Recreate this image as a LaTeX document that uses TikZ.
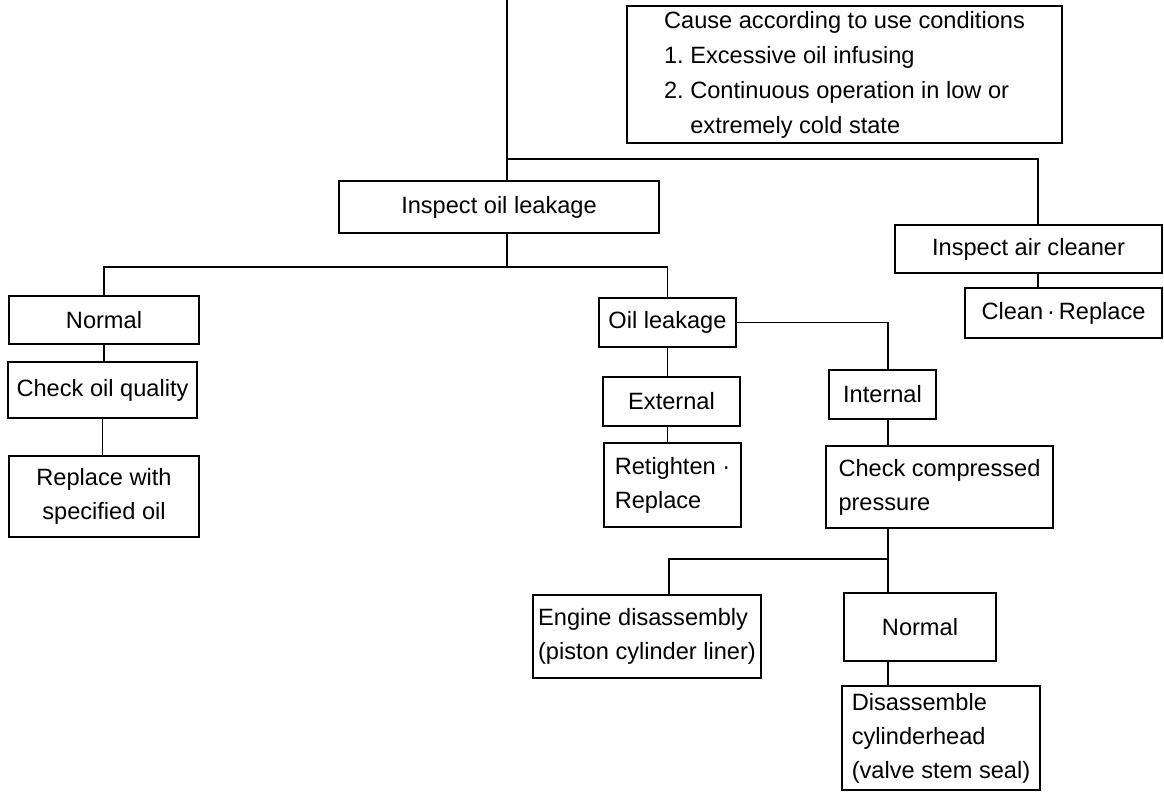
\documentclass[tikz,border=0pt]{standalone}
\usepackage{fontspec}
\setmainfont{Liberation Sans}
\begin{document}
\begin{tikzpicture}[x=0.5pt, y=-0.5pt, line width=0.9pt,
    box/.style={draw, inner sep=0pt, align=center, font=\fontsize{11.8}{17}\selectfont},
    lbox/.style={box, align=left}]
    \useasboundingbox (0,0) rectangle (1164,796);

    % Conditions d'utilisation
    \node[lbox, minimum width=217.5pt, minimum height=68.5pt, font=\fontsize{11.8}{17.5}\selectfont] (cause) at (844.5,74.5)
        {Cause according to use conditions\\1.\ Excessive oil infusing\\2.\ Continuous operation in low or\\\hphantom{2.\ }extremely cold state};

    % Niveau 1
    \node[box, minimum width=160pt, minimum height=26pt] (inspoil) at (499,207) {Inspect oil leakage};
    \node[box, minimum width=133.5pt, minimum height=24pt] (aircl) at (1028.5,249) {Inspect air cleaner};
    \node[box, minimum width=98.5pt, minimum height=25pt] (cleanrep) at (1063.5,313) {Clean\,·\,Replace};

    % Branche gauche
    \node[box, minimum width=95pt, minimum height=24pt] (normal1) at (104,320) {Normal};
    \node[box, minimum width=94.5pt, minimum height=28pt] (checkq) at (102.5,390) {Check oil quality};
    \node[box, minimum width=95pt, minimum height=40.5pt] (replace) at (104,496.5) {Replace with\\specified oil};

    % Branche fuite
    \node[box, minimum width=68.5pt, minimum height=24.5pt] (oilleak) at (667.5,322.5) {Oil leakage};
    \node[box, minimum width=68.5pt, minimum height=24.5pt] (external) at (671.5,401.5) {External};
    \node[box, minimum width=53.5pt, minimum height=24.5pt] (internal) at (882.5,394.5) {Internal};
    \node[lbox, minimum width=68.5pt, minimum height=42pt, inner xsep=5pt] (retighten) at (672.5,485) {Retighten ·\\Replace};
    \node[lbox, minimum width=113.5pt, minimum height=41pt, inner xsep=5.5pt] (checkp) at (939.5,487) {Check compressed\\pressure};

    % Niveau bas
    \node[lbox, minimum width=114pt, minimum height=41.5pt, inner xsep=2pt] (engine) at (647,636.5) {Engine disassembly\\(piston cylinder liner)};
    \node[box, minimum width=76pt, minimum height=34pt] (normal2) at (920,627) {Normal};
    \node[lbox, minimum width=99pt, minimum height=52pt, inner xsep=5pt] (disasm) at (941,738) {Disassemble\\cylinderhead\\(valve stem seal)};

    % Points de branchement
    \coordinate (top) at (507,0);
    \coordinate (split) at (507,159);
    \coordinate (fork) at (507,267);
    \coordinate (airx) at (1038,0);
    \coordinate (fork2) at (888,559);

    % Liaisons
    \draw (top) -- (top |- inspoil.north);
    \draw (split) -| (airx |- aircl.north);
    \draw (airx |- aircl.south) -- (airx |- cleanrep.north);
    \draw (fork |- inspoil.south) -- (fork);
    \draw (fork) -| (normal1.north);
    \draw (fork) -| (oilleak.north);
    \draw (normal1.south) -- (normal1.south |- checkq.north);
    \draw (checkq.south) -- (checkq.south |- replace.north);
    \draw (oilleak.south) -- (oilleak.south |- external.north);
    \draw (oilleak.south |- external.south) -- (oilleak.south |- retighten.north);
    \draw (oilleak.east) -| (fork2 |- internal.north);
    \draw (fork2 |- internal.south) -- (fork2 |- checkp.north);
    \draw (fork2 |- checkp.south) -- (fork2);
    \draw (fork2) -| ([xshift=11pt]engine.north);
    \draw (fork2) -- (fork2 |- normal2.north);
    \draw (fork2 |- normal2.south) -- (fork2 |- disasm.north);
\end{tikzpicture}
\end{document}
